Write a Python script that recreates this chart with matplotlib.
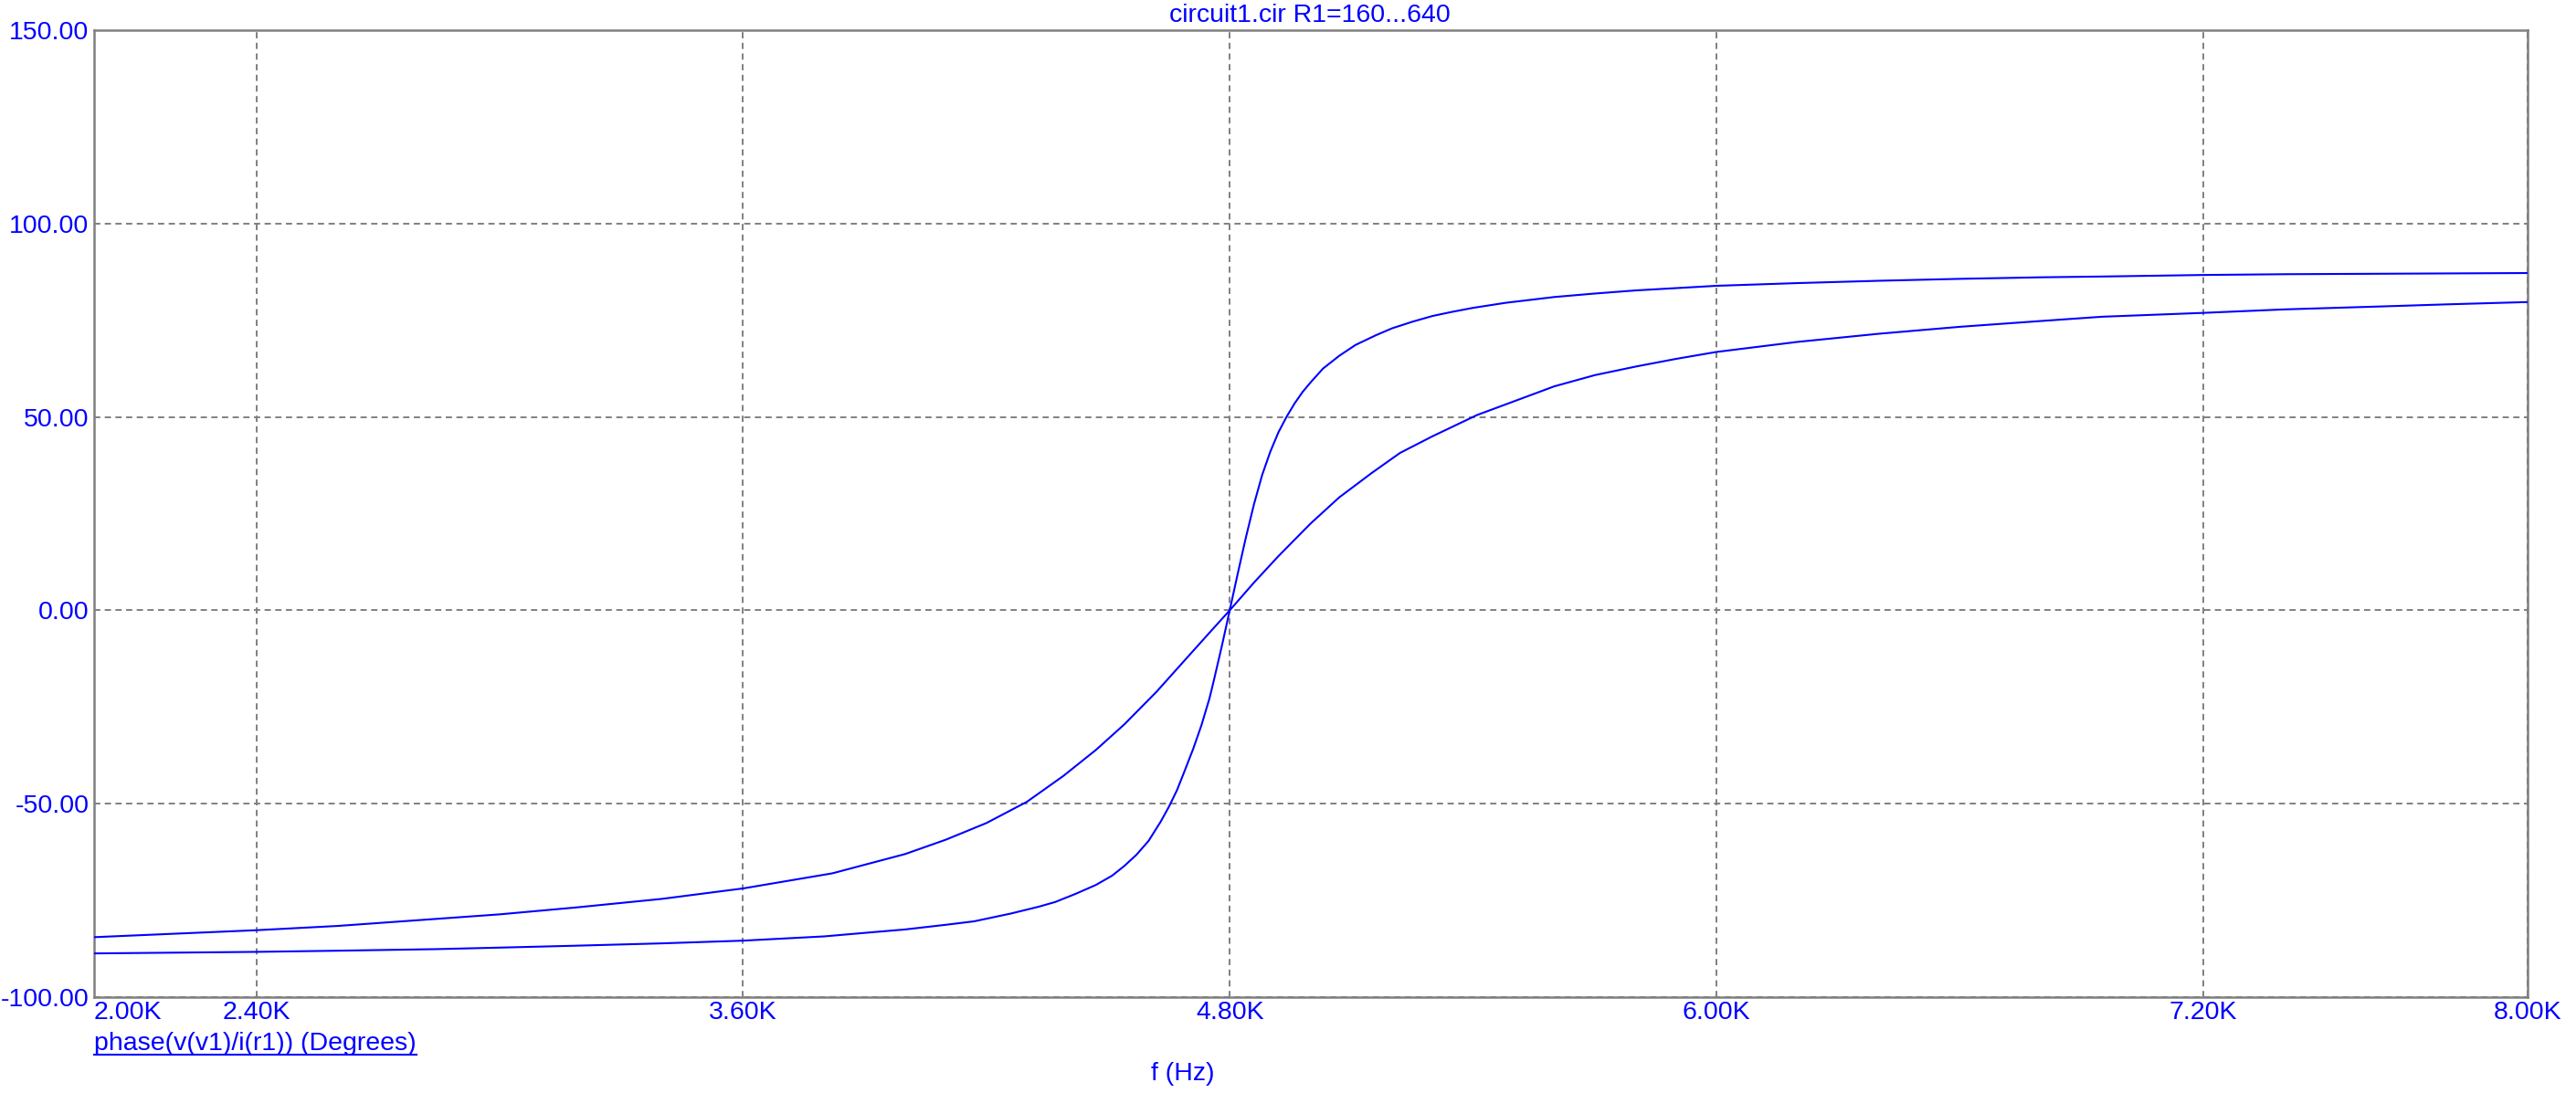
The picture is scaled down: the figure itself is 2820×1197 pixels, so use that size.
import matplotlib
matplotlib.use('Agg')
import matplotlib.pyplot as plt
from matplotlib.lines import Line2D

plt.rcParams['font.family'] = ['Liberation Sans', 'DejaVu Sans']

# frequency in kHz, phase in degrees
f_low_q = [2.0, 2.2, 2.4, 2.6, 2.84, 3.0, 3.19, 3.4, 3.6, 3.82, 4.0, 4.1, 4.2, 4.3,
           4.39, 4.47, 4.54, 4.62, 4.69, 4.75, 4.80, 4.86, 4.92, 5.0, 5.07, 5.15,
           5.22, 5.3, 5.41, 5.5, 5.6, 5.7, 5.8, 5.9, 6.0, 6.2, 6.4, 6.6, 6.8, 6.95,
           7.2, 7.4, 7.65, 7.8, 8.0]
ph_low_q = [-84.5, -83.6, -82.7, -81.6, -79.8, -78.6, -76.8, -74.6, -71.9, -68.0,
            -63.0, -59.3, -55.0, -49.5, -42.8, -36.1, -29.5, -21.0, -12.8, -5.8, 0.0,
            7.2, 14.0, 22.5, 29.2, 35.5, 40.7, 45.0, 50.5, 54.0, 57.9, 60.8, 63.0,
            65.0, 66.8, 69.4, 71.5, 73.3, 74.8, 75.9, 76.9, 77.8, 78.6, 79.1, 79.7]

f_high_q = [2.0, 2.2, 2.4, 2.6, 2.84, 3.0, 3.19, 3.4, 3.6, 3.8, 3.91, 4.0, 4.1, 4.17,
            4.26, 4.33, 4.37, 4.42, 4.47, 4.51, 4.54, 4.57, 4.60, 4.63, 4.65, 4.67,
            4.69, 4.71, 4.73, 4.75, 4.76, 4.78, 4.80, 4.81, 4.82, 4.84, 4.86, 4.88,
            4.90, 4.92, 4.94, 4.96, 4.98, 5.00, 5.03, 5.07, 5.11, 5.16, 5.2, 5.25,
            5.3, 5.35, 5.4, 5.48, 5.6, 5.7, 5.8, 5.9, 6.0, 6.2, 6.4, 6.6, 6.8, 6.95,
            7.2, 7.4, 7.6, 7.8, 8.0]
ph_high_q = [-88.7, -88.5, -88.3, -88.0, -87.6, -87.2, -86.7, -86.1, -85.4, -84.3,
             -83.3, -82.5, -81.3, -80.4, -78.4, -76.6, -75.4, -73.3, -71.0, -68.6,
             -66.1, -63.2, -59.6, -54.6, -50.8, -46.5, -41.2, -35.8, -29.8, -22.8,
             -18.5, -9.5, 0.0, 4.8, 9.6, 18.9, 27.5, 35.0, 41.0, 46.0, 50.0, 53.5,
             56.5, 59.0, 62.5, 65.8, 68.6, 71.1, 72.9, 74.6, 76.1, 77.2, 78.2, 79.5,
             81.0, 81.9, 82.7, 83.3, 83.9, 84.6, 85.2, 85.7, 86.1, 86.3, 86.7, 86.9,
             87.0, 87.1, 87.2]

x_ticks = [2.0, 2.4, 3.6, 4.8, 6.0, 7.2, 8.0]
x_labels = ['2.00K', '2.40K', '3.60K', '4.80K', '6.00K', '7.20K', '8.00K']
y_ticks = [-100, -50, 0, 50, 100, 150]
y_labels = ['-100.00', '-50.00', '0.00', '50.00', '100.00', '150.00']

W, H = 2820, 1197
fig = plt.figure(figsize=(W / 100, H / 100), dpi=100)
ax = fig.add_axes([103 / W, 1 - 1092 / H, (2767 - 103) / W, (1092 - 33) / H])

blue = '#0000FF'
gray = '#808080'
fs = 20.5

ax.plot(f_low_q, ph_low_q, color=blue, lw=1.5, zorder=3)
ax.plot(f_high_q, ph_high_q, color=blue, lw=1.5, zorder=3)

ax.set_xlim(2.0, 8.0)
ax.set_ylim(-100, 150)
ax.set_xticks(x_ticks)
ax.set_xticklabels(x_labels)
ax.set_yticks(y_ticks)
ax.set_yticklabels(y_labels)
ax.tick_params(axis='both', length=0, labelsize=fs, labelcolor=blue)
ax.tick_params(axis='x', pad=3)
ax.tick_params(axis='y', pad=4)
ax.get_xticklabels()[0].set_ha('left')

ax.grid(True, color=gray, linestyle=(0, (3.5, 2.5)), linewidth=1.4, zorder=1)
for sp in ax.spines.values():
    sp.set_color(gray)
    sp.set_linewidth(1.8)

fig.text(1434 / W, 1 - 17 / H, 'circuit1.cir R1=160...640', color=blue, fontsize=fs,
         ha='center', va='center')
fig.text(1295 / W, 1 - 1176 / H, 'f (Hz)', color=blue, fontsize=fs,
         ha='center', va='center')
ylab = fig.text(103 / W, 1 - 1143 / H, 'phase(v(v1)/i(r1)) (Degrees)', color=blue,
                fontsize=fs, ha='left', va='center')

# underline the trace label
fig.canvas.draw()
bb = ylab.get_window_extent(fig.canvas.get_renderer())
bb = bb.transformed(fig.transFigure.inverted())
uy = 1 - 1155 / H
fig.add_artist(Line2D([bb.x0, bb.x1], [uy, uy], color=blue, lw=1.5,
                      transform=fig.transFigure))

fig.savefig('out.png', dpi=100)
